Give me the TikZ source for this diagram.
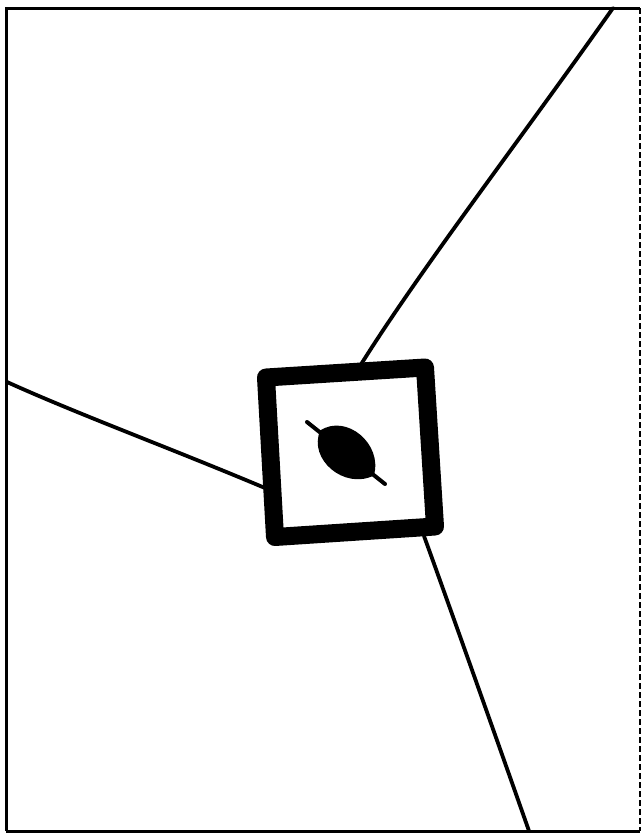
\documentclass[tikz,border=0pt]{standalone}
\begin{document}
\begin{tikzpicture}[x=1pt,y=-1pt,
  frame/.style={line width=3pt},
  wire/.style={line width=3.8pt,line cap=round},
  box/.style={line width=18pt,line join=round},
  stem/.style={line width=4pt,line cap=round}]
\useasboundingbox (0,0) rectangle (643,836);
\fill[white] (0,0) rectangle (643,836);
% frame
\draw[frame] (6,831) -- (6,8) -- (640,8);
\draw[frame] (6,831) -- (640,831);
\draw[line width=1.2pt,dash pattern=on 6pt off 3pt] (640,8) -- (640,831);
% connection points
\coordinate (tl) at (266,377.5);
\coordinate (tr) at (425,367.5);
\coordinate (br) at (435,526.5);
\coordinate (bl) at (275,537);
\coordinate (topend) at (613,8);
\coordinate (topjoin) at (360,366);
\coordinate (leftend) at (7,382);
\coordinate (leftjoin) at (265,488);
\coordinate (botjoin) at (424,536);
\coordinate (botend) at (529,831);
% wires
\draw[wire] (topend) .. controls (520,140) and (420,270) .. (topjoin);
\draw[wire] (leftend) .. controls (80,415) and (170,448) .. (leftjoin);
\draw[wire] (botjoin) .. controls (440,580) and (490,720) .. (botend);
% box
\draw[box] (tl) -- (tr) -- (br) -- (bl) -- cycle;
% leaf
\coordinate (leafc) at (347,453);
\draw[stem] (307,422) -- (385,484);
\begin{scope}[shift={(leafc)},rotate=-40]
\fill (-35,0) .. controls (-26,-30) and (22,-30) .. (35,0)
      .. controls (22,30) and (-26,30) .. (-35,0) -- cycle;
\end{scope}
\end{tikzpicture}
\end{document}
